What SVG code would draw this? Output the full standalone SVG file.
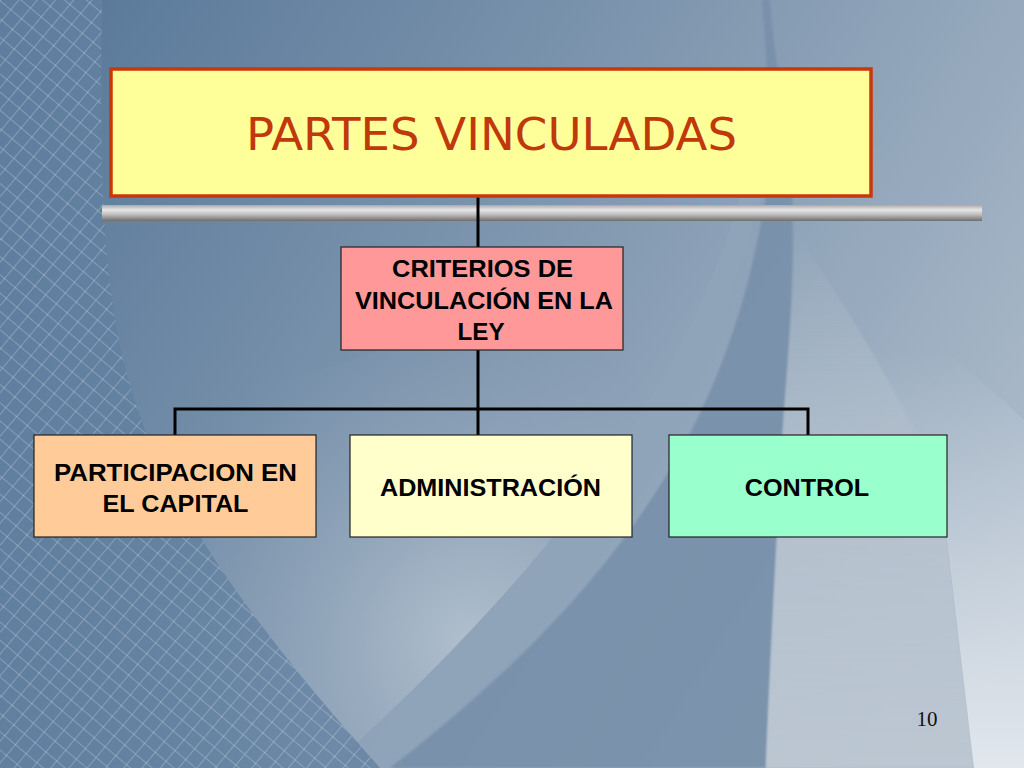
<svg xmlns="http://www.w3.org/2000/svg" width="1024" height="768" viewBox="0 0 1024 768">
<defs>
<linearGradient id="bg" x1="0" y1="0" x2="1024" y2="640" gradientUnits="userSpaceOnUse">
<stop offset="0" stop-color="#557597"/>
<stop offset="0.5" stop-color="#8198b0"/>
<stop offset="1" stop-color="#b1bfcd"/>
</linearGradient>
<radialGradient id="lightA" cx="470" cy="640" r="330" gradientUnits="userSpaceOnUse">
<stop offset="0" stop-color="#b0bfcd"/>
<stop offset="1" stop-color="#8ba0b6" stop-opacity="0"/>
</radialGradient>
<linearGradient id="lightD" x1="0" y1="230" x2="0" y2="768" gradientUnits="userSpaceOnUse">
<stop offset="0" stop-color="#b9c5d0" stop-opacity="0"/>
<stop offset="0.5" stop-color="#b9c5d0" stop-opacity="0.8"/>
<stop offset="1" stop-color="#bcc7d2" stop-opacity="0.95"/>
</linearGradient>
<linearGradient id="lightE" x1="0" y1="350" x2="0" y2="768" gradientUnits="userSpaceOnUse">
<stop offset="0" stop-color="#d6dee6" stop-opacity="0"/>
<stop offset="1" stop-color="#e4e9ef" stop-opacity="0.95"/>
</linearGradient>
<linearGradient id="bar" x1="0" y1="0" x2="0" y2="1">
<stop offset="0" stop-color="#a9a9a9"/>
<stop offset="0.3" stop-color="#e6e6e6"/>
<stop offset="0.6" stop-color="#bdbdbd"/>
<stop offset="1" stop-color="#6d6d6d"/>
</linearGradient>
<linearGradient id="meshfade" x1="0" y1="0" x2="0" y2="1">
<stop offset="0" stop-color="#6584a4"/>
<stop offset="1" stop-color="#56769a"/>
</linearGradient>
<pattern id="mesh" width="14" height="14" patternUnits="userSpaceOnUse" patternTransform="rotate(40)">
<path d="M0 0 H14 M0 0 V14" stroke="#dbe6f0" stroke-width="1" fill="none" opacity="0.6"/>
</pattern>
<filter id="soft" x="-10%" y="-10%" width="120%" height="120%"><feGaussianBlur stdDeviation="1.2"/></filter>
<style>
.node rect{stroke:#222;stroke-width:1.2}
.lbl{font-family:"Liberation Sans",Arial,sans-serif;font-weight:bold;font-size:24.5px;fill:#000;text-anchor:middle}
.conn{stroke:#000;stroke-width:3;fill:none}
</style>
</defs>
<g id="background">
<rect width="1024" height="768" fill="url(#bg)"/>
<path d="M745 180 C690 380 560 560 330 768 H0 V420 C250 420 500 320 745 180 Z" fill="url(#lightA)"/>
<path d="M745 180 C690 380 560 560 330 768 H390 C560 640 690 480 765 180 Z" fill="#8fa3b9" opacity="0.9"/>
<path d="M762 0 C772 120 768 180 765 200 C735 380 660 560 390 768 H766 C772 620 778 520 782 440 C790 330 797 250 790 150 C780 80 772 40 770 0 Z" fill="#7890aa" opacity="0.9" filter="url(#soft)"/>
<path d="M795 230 C880 360 935 450 946 530 L974 768 H766 C772 620 778 520 782 440 C788 360 794 290 795 230 Z" fill="url(#lightD)" filter="url(#soft)"/>
<path d="M795 230 C880 360 935 450 946 530 L974 768 H1024 V420 C960 360 880 300 795 230 Z" fill="url(#lightE)"/>
<path d="M0 0 H102 C98 250 104 380 190 520 C250 620 320 700 380 768 H0 Z" fill="url(#meshfade)" opacity="0.6"/>
<path d="M0 0 H102 C98 250 104 380 190 520 C250 620 320 700 380 768 H0 Z" fill="url(#mesh)"/>
</g>
<rect id="rule-bar" x="102" y="205" width="880" height="16" fill="url(#bar)"/>
<g id="connectors">
<path class="conn" d="M478 196 V247"/>
<path class="conn" d="M478 350 V435"/>
<path class="conn" d="M175 435 V409 H808 V435"/>
</g>
<g id="title" class="node">
<rect x="111" y="69" width="760" height="127" fill="#ffff99" style="stroke:#c8390a;stroke-width:3.5"/>
<text x="491.5" y="150" text-anchor="middle" font-family="DejaVu Sans,Verdana,sans-serif" font-size="45" fill="#c0390b" textLength="491" lengthAdjust="spacingAndGlyphs">PARTES VINCULADAS</text>
</g>
<g id="criterios" class="node">
<rect x="341" y="247" width="282" height="103" fill="#ff9999"/>
<text class="lbl" x="482.5" y="277" textLength="181" lengthAdjust="spacingAndGlyphs">CRITERIOS DE</text>
<text class="lbl" x="484" y="309" textLength="258" lengthAdjust="spacingAndGlyphs">VINCULACIÓN EN LA</text>
<text class="lbl" x="481" y="340" textLength="47" lengthAdjust="spacingAndGlyphs">LEY</text>
</g>
<g id="participacion" class="node">
<rect x="34" y="435" width="282" height="102" fill="#ffcc99"/>
<text class="lbl" x="175.5" y="481" textLength="243" lengthAdjust="spacingAndGlyphs">PARTICIPACION EN</text>
<text class="lbl" x="175.5" y="512" textLength="146" lengthAdjust="spacingAndGlyphs">EL CAPITAL</text>
</g>
<g id="administracion" class="node">
<rect x="350" y="435" width="282" height="102" fill="#ffffcc"/>
<text class="lbl" x="490.5" y="496" textLength="221" lengthAdjust="spacingAndGlyphs">ADMINISTRACIÓN</text>
</g>
<g id="control" class="node">
<rect x="669" y="435" width="278" height="102" fill="#99ffcc"/>
<text class="lbl" x="807" y="496" textLength="124.5" lengthAdjust="spacingAndGlyphs">CONTROL</text>
</g>
<text id="page-number" x="927" y="726" text-anchor="middle" font-family="Liberation Serif,serif" font-size="21" fill="#111">10</text>
</svg>
